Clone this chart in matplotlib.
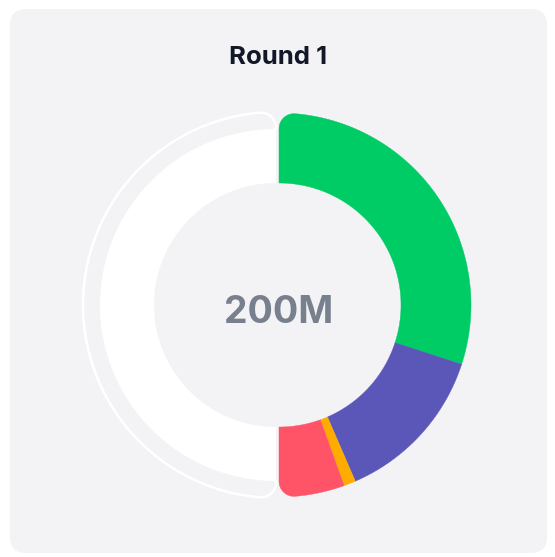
import numpy as np
import matplotlib.pyplot as plt
from matplotlib.patches import Polygon, FancyBboxPatch

# data (millions)
labels = ['A', 'B', 'C', 'D']
values = [120, 54, 4, 22]
colors = ['#00cc66', '#5b57b9', '#ffab00', '#ff5468']
title = 'Round 1'

cx, cy = 279, 305
R_out, r_in = 192, 122
r_fill = 176
rc = 15


def arc(r, a, b, n=120):
    t = np.radians(np.linspace(a, b, n))
    return np.column_stack([r * np.cos(t), r * np.sin(t)])


def corner(theta, s, R, rc, n=25):
    # rounded outer corner at radial edge theta, interior on side s
    d = R - rc
    delta = np.degrees(np.arcsin(rc / d))
    phi = np.radians(theta + s * delta)
    c = d * np.array([np.cos(phi), np.sin(phi)])
    t2 = np.sqrt(d * d - rc * rc) * np.array([np.cos(np.radians(theta)), np.sin(np.radians(theta))])
    t1 = R * np.array([np.cos(phi), np.sin(phi)])
    a2 = np.arctan2(*(t2 - c)[::-1])
    a1 = np.arctan2(*(t1 - c)[::-1])
    da = (a1 - a2 + np.pi) % (2 * np.pi) - np.pi
    angs = a2 + np.linspace(0, da, n)
    return c + rc * np.column_stack([np.cos(angs), np.sin(angs)]), delta


def outer_edge(a, b, R, round_a, round_b):
    pts = []
    a2, b2 = a, b
    if round_a:
        p, d = corner(a, -1, R, rc)
        pts.append(p)
        a2 = a - d
    tail = None
    if round_b:
        p, d = corner(b, 1, R, rc)
        tail = p[::-1]
        b2 = b + d
    pts.append(arc(R, a2, b2))
    if tail is not None:
        pts.append(tail)
    return np.vstack(pts)


def to_px(pts, x0=cx):
    return np.column_stack([x0 + pts[:, 0], cy - pts[:, 1]])


fig = plt.figure(figsize=(5.55, 5.57), dpi=100)
ax = fig.add_axes([0, 0, 1, 1])
ax.set_xlim(0, 555)
ax.set_ylim(557, 0)
ax.axis('off')

card = FancyBboxPatch((10, 9), 537, 544, boxstyle='round,pad=0,rounding_size=16',
                      fc='#f3f3f6', ec='none')
ax.add_patch(card)

# empty half track
lx = cx - 3
fill = np.vstack([arc(r_fill, 90, 270), arc(r_in, 270, 90)])
ax.add_patch(Polygon(to_px(fill, lx), closed=True, fc='white', ec='none'))
edge = outer_edge(270, 90, R_out + 1, True, True)
edge = np.vstack([[0, -r_fill], edge, [0, r_fill]])
line = to_px(edge, lx)
ax.plot(line[:, 0], line[:, 1], color='white', lw=1.8, solid_capstyle='round')

# value segments on the right half
total = sum(values)
start = 90.0
for i, (v, col) in enumerate(zip(values, colors)):
    end = start - 180.0 * v / total
    outer = outer_edge(start, end, R_out, i == 0, i == len(values) - 1)
    pts = np.vstack([outer, arc(r_in, end, start)])
    ax.add_patch(Polygon(to_px(pts), closed=True, fc=col, ec=col, lw=0.3))
    start = end

ax.text(cx, cy + 8, f'{total}M', ha='center', va='center', fontsize=27,
        fontweight='bold', color='#78808e', family=['Inter', 'DejaVu Sans'])
ax.text(278, 57, title, ha='center', va='center', fontsize=18.5,
        fontweight='bold', color='#111827', family=['Inter', 'DejaVu Sans'])

fig.savefig('out.png', dpi=100, facecolor='white')
